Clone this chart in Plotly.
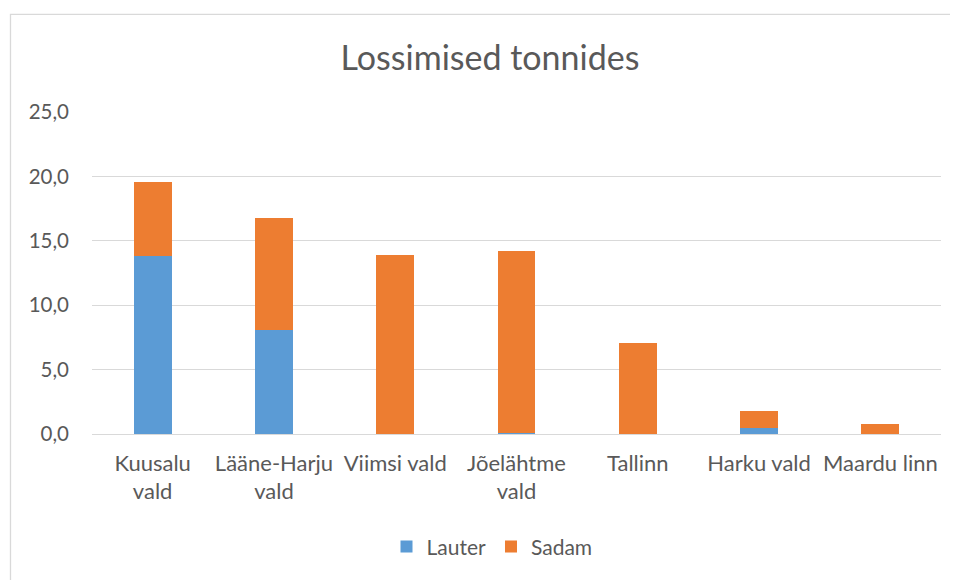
import plotly.graph_objects as go

categories = ["Kuusalu<br>vald", "Lääne-Harju<br>vald", "Viimsi vald", "Jõelähtme<br>vald",
              "Tallinn", "Harku vald", "Maardu linn"]
lauter = [13.8, 8.1, 0.0, 0.05, 0.0, 0.5, 0.0]
sadam = [5.8, 8.65, 13.9, 14.15, 7.1, 1.3, 0.75]

FONT = "Lato"
TXT = "#595959"

fig = go.Figure()
fig.add_trace(go.Bar(name="Lauter", x=categories, y=lauter, marker_color="#5b9bd5",
                     marker_line_width=0))
fig.add_trace(go.Bar(name="Sadam", x=categories, y=sadam, marker_color="#ed7d31",
                     marker_line_width=0))

# page body has an 8px margin; work in page pixel coordinates and subtract it
O = 8
W, H = 958 - O, 580 - O
left, right, top, bottom = 92, 941, 112, 437  # plot area in page pixels
ml, mr, mt, mb = left - O, (W + O) - right, top - O, (H + O) - bottom
pw, ph = right - left, bottom - top

def px(x):
    return (x - left) / pw

def py(y):
    return (bottom - y) / ph

fig.update_layout(
    width=W, height=H,
    barmode="stack", bargap=0.687,
    margin=dict(l=ml, r=mr, t=mt, b=mb, pad=0),
    paper_bgcolor="white", plot_bgcolor="white",
    separators=", ",
    font=dict(family=FONT, size=20, color=TXT),
    title=dict(text="Lossimised tonnides", x=px(490), xref="paper", xanchor="center",
               y=1 - (58 - O) / H, yref="container", yanchor="middle",
               font=dict(family=FONT, size=34, color=TXT)),
    legend=dict(orientation="h", x=px(492), xanchor="center", y=py(551), yanchor="middle",
                font=dict(family=FONT, size=21, color=TXT), traceorder="normal",
                itemwidth=30),
    showlegend=True,
    yaxis=dict(range=[0, 25], dtick=5, tickformat=".1f", showgrid=True,
               gridcolor="#d9d9d9", gridwidth=1.3, zeroline=False, showline=False,
               ticks="", ticklabelstandoff=22, tickfont=dict(size=20.5, color=TXT)),
    xaxis=dict(showgrid=False, showline=True, linecolor="#d9d9d9", linewidth=1.3,
               ticks="", tickfont=dict(size=22, color=TXT), ticklabelstandoff=9),
    shapes=[dict(type="rect", xref="paper", yref="paper",
                 x0=px(10.5), x1=px(1010), y0=py(640), y1=py(13.5),
                 line=dict(color="#d9d9d9", width=1.3), fillcolor="rgba(0,0,0,0)",
                 layer="below")],
)

fig.write_html("out.html", config={"displayModeBar": False})
